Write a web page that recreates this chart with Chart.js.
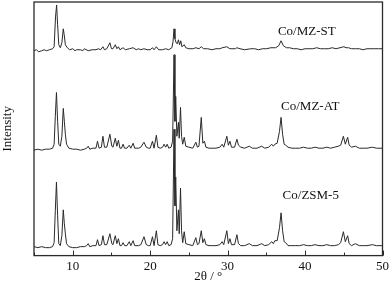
<!DOCTYPE html>
<html>
<head>
<meta charset="utf-8">
<script src="https://cdn.jsdelivr.net/npm/chart.js@4.4.1/dist/chart.umd.min.js"></script>
<style>
  html, body { margin: 0; padding: 0; background: #fff; }
  canvas { display: block; }
</style>
</head>
<body>
<canvas id="xrd" width="392" height="283"></canvas>
<script>
// 2θ (deg) and intensity (arbitrary, offset stacked)
const stPoints = [
  [5.0,206],[5.3,207],[5.6,205],[6.0,206],[6.3,207],[6.6,206],[7.0,207],[7.4,208],[7.6,210],[7.78,240],[7.92,252],[8.05,232],
  [8.2,212],[8.4,209],[8.6,214],[8.78,228],[8.9,222],[9.05,212],[9.3,209],[9.6,207],[10.0,208],[10.3,206],[10.5,207],
  [11.0,207],[11.3,206],[11.5,208],[12.0,206],[12.5,207],[13.0,207],[13.3,208],[13.6,207],[13.9,210],[14.1,207],[14.4,208],
  [14.8,214],[15.0,208],[15.2,208],[15.5,212],[15.7,208],[15.9,210],[16.1,207],[16.5,209],[16.8,207],[17.3,208],
  [17.8,209],[18.2,207],[18.5,208],[18.8,207],[19.2,208],[19.6,207],[20.0,207],[20.3,209],[20.5,207],[20.8,210],[21.1,207],
  [21.6,207],[22.0,208],[22.4,207],[22.8,209],[22.95,215],[23.08,228],[23.2,218],[23.35,214],[23.5,213],[23.65,217],
  [23.8,212],[23.95,216],[24.1,210],[24.4,212],[24.6,209],[25.0,208],[25.5,208],[25.9,209],[26.3,208],[26.6,210],
  [26.9,208],[27.4,208],[28.0,207],[28.5,208],[29.0,208],[29.3,209],[29.9,210],[30.3,208],[31.0,208],[31.2,209],
  [31.6,208],[32.2,207],[33.0,208],[33.5,208],[34.0,207],[34.5,208],[35.0,208],[35.6,209],[36.2,209],[36.6,211],
  [36.9,216],[37.2,211],[37.6,209],[38.0,209],[38.5,208],[39.0,208],[39.5,207],[40.0,208],[40.5,208],[41.0,208],
  [41.5,209],[42.0,208],[42.5,208],[43.0,208],[43.5,209],[44.0,208],[44.5,209],[45.0,210],[45.3,209],[45.6,209],
  [46.0,208],[46.5,208],[47.0,208],[47.5,207],[48.0,208],[48.5,208],[49.0,208],[49.5,208],[50.0,208]
];

const atPoints = [
  [5.0,106],[5.5,107],[6.0,106],[6.5,107],[7.0,107],[7.4,108],[7.6,112],[7.75,140],[7.9,164],[8.05,135],
  [8.2,112],[8.4,110],[8.6,120],[8.78,148],[8.92,135],[9.05,122],[9.2,112],[9.5,108],[10.0,107],[10.5,107],
  [11.0,106],[11.5,107],[11.8,108],[12.0,110],[12.2,107],[12.6,108],[13.0,108],[13.2,115],[13.4,108],[13.7,109],
  [13.9,120],[14.1,109],[14.4,109],[14.8,122],[15.05,110],[15.2,109],[15.5,118],[15.7,110],[15.9,116],[16.1,108],
  [16.3,108],[16.5,112],[16.7,108],[17.0,108],[17.3,111],[17.5,108],[17.8,113],[18.0,108],[18.5,108],[18.8,109],
  [19.2,114],[19.5,109],[19.8,108],[20.0,108],[20.3,115],[20.5,108],[20.8,121],[21.0,109],[21.3,108],[21.6,109],
  [21.8,112],[22.0,109],[22.2,112],[22.4,108],[22.7,109],[22.9,115],[23.08,202],[23.2,135],[23.3,160],[23.45,120],
  [23.65,134],[23.75,118],[23.92,149],[24.05,120],[24.2,112],[24.4,119],[24.6,110],[25.0,109],[25.5,108],[25.9,114],
  [26.1,109],[26.3,110],[26.6,139],[26.8,113],[27.0,115],[27.2,109],[27.6,108],[28.0,108],[28.5,108],[29.0,109],
  [29.3,112],[29.5,109],[29.9,120],[30.1,111],[30.3,115],[30.5,109],[30.9,109],[31.2,117],[31.4,111],[31.7,109],
  [32.2,108],[32.8,110],[33.2,108],[33.8,108],[34.4,110],[34.8,108],[35.3,109],[35.7,112],[35.9,110],[36.1,112],
  [36.4,113],[36.7,125],[36.9,139],[37.1,122],[37.3,112],[37.5,111],[37.8,109],[38.3,108],[38.8,108],[39.3,108],
  [39.8,109],[40.3,108],[40.8,108],[41.3,109],[41.8,108],[42.3,108],[42.8,109],[43.3,108],[43.8,109],[44.3,110],
  [44.6,111],[44.95,120],[45.2,112],[45.5,119],[45.7,111],[46.0,109],[46.5,110],[47.0,108],[47.5,108],[48.0,108],
  [48.7,109],[49.2,108],[50.0,108]
];

const zsmPoints = [
  [5.0,9],[5.5,8],[6.0,9],[6.5,8],[7.0,8],[7.4,9],[7.6,13],[7.75,45],[7.9,74],[8.05,40],
  [8.2,12],[8.4,10],[8.6,20],[8.78,46],[8.92,32],[9.05,22],[9.2,12],[9.5,9],[10.0,8],[10.5,8],
  [11.0,9],[11.5,9],[11.8,10],[12.0,12],[12.2,9],[12.6,10],[13.0,10],[13.2,16],[13.4,10],[13.7,11],
  [13.9,20],[14.1,11],[14.4,11],[14.8,22],[15.05,12],[15.2,11],[15.5,20],[15.7,12],[15.9,17],[16.1,10],
  [16.3,10],[16.5,13],[16.7,10],[17.0,10],[17.3,14],[17.5,10],[17.8,15],[18.0,10],[18.5,10],[18.8,11],
  [19.2,19],[19.5,11],[19.8,10],[20.0,10],[20.3,19],[20.5,10],[20.8,25],[21.0,11],[21.3,10],[21.6,11],
  [21.8,14],[22.0,11],[22.2,14],[22.4,10],[22.7,11],[22.9,17],[23.08,127],[23.2,50],[23.3,79],[23.45,25],
  [23.65,46],[23.75,22],[23.92,68],[24.05,25],[24.2,13],[24.4,24],[24.6,12],[25.0,11],[25.5,10],[25.9,18],
  [26.1,11],[26.3,12],[26.6,25],[26.8,13],[27.0,17],[27.2,11],[27.6,10],[28.0,10],[28.5,10],[29.0,11],
  [29.3,14],[29.5,11],[29.9,25],[30.1,12],[30.3,17],[30.5,11],[30.9,11],[31.2,21],[31.4,12],[31.7,10],
  [32.2,10],[32.8,12],[33.2,10],[33.8,10],[34.4,12],[34.8,10],[35.3,11],[35.7,14],[35.9,12],[36.1,15],
  [36.4,15],[36.7,28],[36.9,43],[37.1,25],[37.3,14],[37.5,13],[37.8,10],[38.3,10],[38.8,10],[39.3,10],
  [39.8,11],[40.3,10],[40.8,10],[41.3,11],[41.8,10],[42.3,10],[42.8,11],[43.3,10],[43.8,10],[44.3,11],
  [44.6,13],[44.95,24],[45.2,14],[45.5,20],[45.7,12],[46.0,10],[46.5,12],[47.0,10],[47.5,10],[48.0,10],
  [48.7,11],[49.2,10],[50.0,10]
];

const seriesNames = ['Co/MZ-ST', 'Co/MZ-AT', 'Co/ZSM-5'];
const seriesPoints = [stPoints, atPoints, zsmPoints];

const SERIF = '"Liberation Serif", "Times New Roman", serif';
const INK = '#2a2a2a';

// sample name written next to each trace (2θ, intensity of text centre line)
const nameAnchors = [[36.5, 225], [36.9, 150], [37.1, 60]];

const framePlugin = {
  id: 'frame',
  afterDatasetsDraw(chart) {
    const { ctx, chartArea: a, scales: { x, y } } = chart;
    ctx.save();
    ctx.strokeStyle = INK;
    ctx.lineWidth = 1.3;
    ctx.strokeRect(a.left, a.top, a.right - a.left, a.bottom - a.top);
    // inward ticks on bottom axis
    ctx.lineWidth = 1;
    x.ticks.forEach(t => {
      const px = Math.round(x.getPixelForValue(t.value)) + 0.5;
      const len = t.value % 10 === 0 ? 5 : 3;
      ctx.beginPath();
      ctx.moveTo(px, a.bottom);
      ctx.lineTo(px, a.bottom - len);
      ctx.stroke();
    });
    ctx.font = '13px ' + SERIF;
    ctx.fillStyle = '#111';
    ctx.textBaseline = 'middle';
    seriesNames.forEach((name, i) => {
      const [tx, ty] = nameAnchors[i];
      ctx.fillText(name, x.getPixelForValue(tx), y.getPixelForValue(ty));
    });
    ctx.restore();
  }
};

new Chart(document.getElementById('xrd'), {
  type: 'line',
  data: {
    datasets: seriesPoints.map((pts, i) => ({
      label: seriesNames[i],
      data: pts.map(p => ({ x: p[0], y: p[1] })),
      borderColor: INK,
      borderWidth: 1,
      pointRadius: 0,
      tension: 0,
      fill: false
    }))
  },
  options: {
    responsive: false,
    animation: false,
    layout: { padding: { top: 2, right: 7, bottom: 0, left: 0 } },
    plugins: { legend: { display: false }, tooltip: { enabled: false } },
    scales: {
      x: {
        type: 'linear',
        min: 5,
        max: 50,
        grid: { display: false, drawTicks: false },
        border: { display: false },
        ticks: {
          stepSize: 5,
          autoSkip: false,
          maxRotation: 0,
          padding: 3,
          color: '#111',
          font: { family: SERIF, size: 13 },
          callback: v => (v % 10 === 0 && v > 5 ? v : '')
        },
        title: {
          display: true,
          text: '2θ / °',
          color: '#111',
          font: { family: SERIF, size: 13 },
          padding: { top: -8.8, bottom: -1 }
        }
      },
      y: {
        min: 0,
        max: 255,
        grid: { display: false, drawTicks: false },
        border: { display: false },
        ticks: { display: false },
        title: {
          display: true,
          text: 'Intensity',
          color: '#111',
          font: { family: SERIF, size: 13 },
          padding: { top: 0, bottom: 18.4 }
        }
      }
    }
  },
  plugins: [framePlugin]
});
</script>
</body>
</html>
